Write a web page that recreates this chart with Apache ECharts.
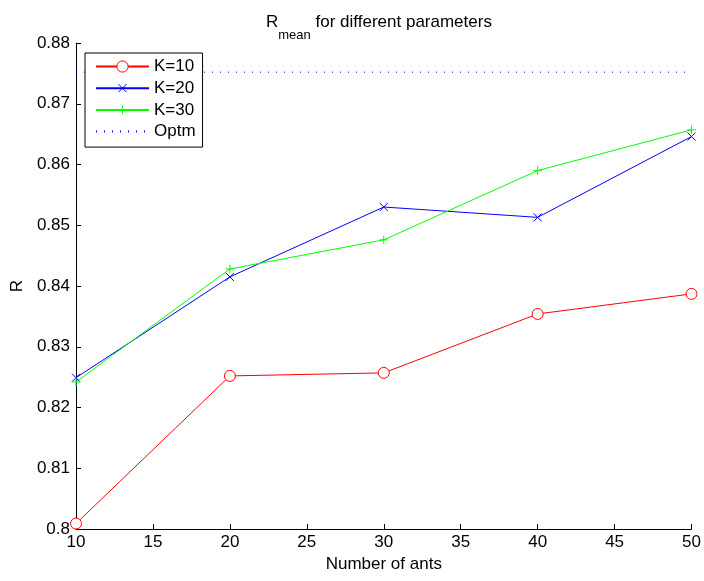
<!DOCTYPE html>
<html>
<head>
<meta charset="utf-8">
<script src="https://cdn.jsdelivr.net/npm/echarts@6/dist/echarts.min.js"></script>
<style>
html,body{margin:0;padding:0;background:#fff;}
#c{width:704px;height:581px;}
</style>
</head>
<body>
<div id="c"></div>
<script>
var ants = [10, 20, 30, 40, 50];
var k10 = [0.8009, 0.8252, 0.8257, 0.8354, 0.8387];
var k20 = [0.8249, 0.8415, 0.8530, 0.8513, 0.8646];
var k30 = [0.8242, 0.8428, 0.8476, 0.8590, 0.8657];
var optmValue = 0.8752;
var optmX = [10, 50];
var seriesNames = ['K=10', 'K=20', 'K=30', 'Optm'];

var FONT = "'Liberation Sans', Arial, Helvetica, sans-serif";
function pairs(xs, ys) { return xs.map(function (x, i) { return [x, ys[i]]; }); }

var chart = echarts.init(document.getElementById('c'), null, {renderer: 'canvas'});
var crossPath = 'path://M-2,-2M0,0L10,10M10,0L0,10M12,12';
var plusPath = 'path://M-1.5,-1.5M5,0L5,10M0,5L10,5M11.5,11.5';

chart.setOption({
  animation: false,
  backgroundColor: '#ffffff',
  title: {
    left: 261, top: 9,
    text: '{r|R}{s|mean}{t| for different parameters}',
    textStyle: {
      fontWeight: 'normal',
      rich: {
        r: {fontFamily: FONT, fontSize: 17, fontWeight: 'normal', color: '#000', verticalAlign: 'top', lineHeight: 20},
        s: {fontFamily: FONT, fontSize: 13, fontWeight: 'normal', color: '#000', verticalAlign: 'top', lineHeight: 13, padding: [15, 0, 0, 0]},
        t: {fontFamily: FONT, fontSize: 17, fontWeight: 'normal', color: '#000', verticalAlign: 'top', lineHeight: 20}
      }
    }
  },
  legend: {
    orient: 'vertical',
    left: 85, top: 53,
    padding: [5, 7, 7, 10],
    itemWidth: 53, itemHeight: 14, itemGap: 4.7,
    borderColor: '#000', borderWidth: 1, backgroundColor: '#fff',
    itemStyle: {borderWidth: 1},
    textStyle: {fontFamily: FONT, fontSize: 17, color: '#000'},
    data: seriesNames
  },
  grid: {left: 76, right: 12, top: 43, bottom: 52},
  xAxis: {
    type: 'value', min: 10, max: 50, interval: 5,
    name: 'Number of ants', nameLocation: 'middle', nameGap: 27,
    nameTextStyle: {fontFamily: FONT, fontSize: 17, color: '#000'},
    axisLine: {show: true, lineStyle: {color: '#000', width: 1}},
    axisTick: {show: true, inside: true, length: 5, lineStyle: {color: '#000'}},
    axisLabel: {fontFamily: FONT, fontSize: 17, color: '#000', margin: 5},
    splitLine: {show: false}
  },
  yAxis: {
    type: 'value', min: 0.8, max: 0.88, interval: 0.01,
    name: 'R', nameLocation: 'middle', nameGap: 49,
    nameTextStyle: {fontFamily: FONT, fontSize: 17, color: '#000'},
    axisLine: {show: true, lineStyle: {color: '#000', width: 1}},
    axisTick: {show: true, inside: true, length: 5, lineStyle: {color: '#000'}},
    axisLabel: {fontFamily: FONT, fontSize: 17, color: '#000', margin: 6},
    splitLine: {show: false}
  },
  series: [
    {
      name: 'K=10', type: 'line', data: pairs(ants, k10),
      symbol: 'circle', symbolSize: 11,
      lineStyle: {color: '#ff0000', width: 1},
      itemStyle: {color: '#ffffff', borderColor: '#ff0000', borderWidth: 1}
    },
    {
      name: 'K=20', type: 'line', data: pairs(ants, k20),
      symbol: crossPath, symbolSize: 11.2,
      lineStyle: {color: '#0000ff', width: 1},
      itemStyle: {color: '#0000ff', borderColor: '#0000ff', borderWidth: 1}
    },
    {
      name: 'K=30', type: 'line', data: pairs(ants, k30),
      symbol: plusPath, symbolSize: 11.2,
      lineStyle: {color: '#00ff00', width: 1},
      itemStyle: {color: '#00ff00', borderColor: '#00ff00', borderWidth: 1}
    },
    {
      name: 'Optm', type: 'line', data: pairs(optmX, [optmValue, optmValue]),
      symbol: 'none',
      lineStyle: {color: '#0000ff', width: 1, type: [1, 7]},
      itemStyle: {color: 'rgba(0,0,0,0)', borderColor: 'rgba(0,0,0,0)', borderWidth: 0}
    }
  ]
});
</script>
</body>
</html>
